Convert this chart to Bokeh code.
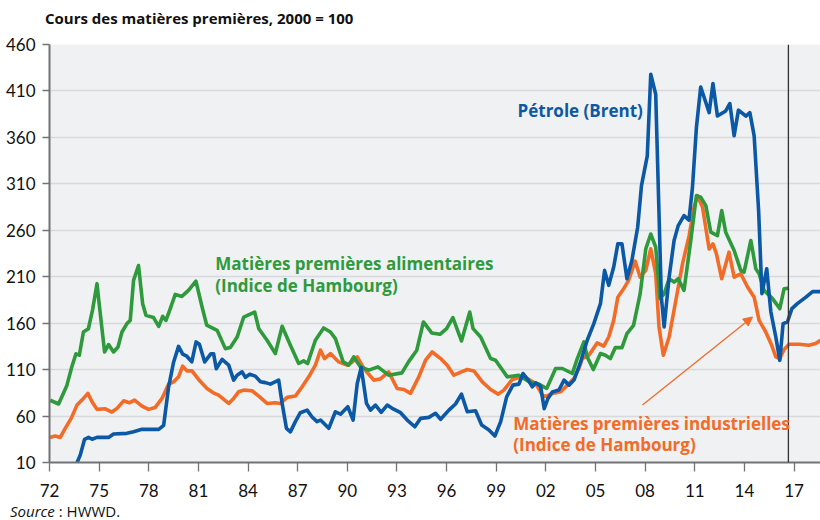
from bokeh.plotting import figure
from bokeh.models import Range1d, FixedTicker, Label, Span, Arrow, NormalHead, Div
from bokeh.layouts import column
from bokeh.embed import file_html
from bokeh.resources import INLINE

# ---------------- data ----------------
oil_years = [1973.62, 1973.86, 1974.12, 1974.36, 1974.57, 1974.87, 1975.57, 1975.87, 1976.68, 1977.08,
             1977.59, 1978.6, 1978.9, 1979.2, 1979.5, 1979.8, 1980.05, 1980.3, 1980.6, 1980.86,
             1981.06, 1981.38, 1981.75, 1981.92, 1982.08, 1982.43, 1982.83, 1983.13, 1983.34, 1983.64,
             1983.84, 1984.1, 1984.44, 1984.75, 1985.05, 1985.35, 1985.85, 1986.06, 1986.32, 1986.56,
             1986.86, 1987.16, 1987.57, 1987.87, 1988.17, 1988.38, 1988.88, 1989.28, 1989.59, 1990.03,
             1990.35, 1990.6, 1990.84, 1991.16, 1991.4, 1991.7, 1992.05, 1992.41, 1992.71, 1993.22,
             1993.62, 1994.08, 1994.43, 1994.93, 1995.33, 1995.64, 1996.14, 1996.54, 1996.9, 1997.25,
             1997.75, 1998.12, 1998.56, 1998.92, 1999.27, 1999.63, 2000.01, 2000.37, 2000.62, 2000.94,
             2001.18, 2001.38, 2001.68, 2001.9, 2002.13, 2002.39, 2002.79, 2003.1, 2003.4, 2003.7,
             2004.1, 2004.5, 2004.9, 2005.3, 2005.55, 2005.8, 2006.1, 2006.35, 2006.6, 2006.9,
             2007.2, 2007.55, 2007.78, 2008.13, 2008.34, 2008.64, 2008.84, 2008.98, 2009.15, 2009.45,
             2009.75, 2010.0, 2010.35, 2010.65, 2010.86, 2011.1, 2011.36, 2011.87, 2012.1, 2012.37,
             2012.87, 2013.12, 2013.38, 2013.64, 2014.09, 2014.33, 2014.59, 2014.86, 2015.06, 2015.35,
             2015.6, 2015.9, 2016.14, 2016.34, 2016.6, 2016.87, 2017.2, 2017.72, 2018.12, 2018.62]
oil_values = [8, 18, 35, 37, 35, 37, 37, 40.7, 41.4, 43,
              45.7, 45.7, 50, 91.5, 118, 135, 126.6, 124.4, 118.3, 139.8,
              137.3, 118.3, 127, 127, 111, 121, 114.8, 98.7, 104, 107.6,
              101.6, 105, 103, 97, 96, 94.4, 98.7, 73.6, 46.8, 43,
              54, 63.6, 66.4, 59, 54, 55.7, 46.8, 64.6, 62, 70,
              55.7, 95, 112.3, 73.6, 66.4, 71.8, 64, 71.8, 68.3, 63.6,
              55.7, 48.5, 57.5, 58.6, 63, 56.5, 66.4, 73, 83.6, 64.6,
              65.7, 50.3, 45, 38.5, 54, 80.7, 93.3, 94.4, 105.8, 98.7,
              91.5, 95.8, 92.2, 68, 79, 86, 88, 98.7, 93.3, 98.7,
              118.3, 141.6, 159.5, 181, 216.8, 200.7, 220.4, 245.4, 245.4, 207.8,
              227.5, 263.3, 308, 340, 428, 406.5, 277.6, 188, 156, 209.5,
              249, 265, 275.8, 271, 306, 370.6, 414.3, 386.7, 418, 383,
              388.5, 396.4, 361.7, 389.3, 383, 386.7, 361.7, 281, 191.7, 218.6,
              172, 145, 120, 159.5, 161.3, 175.6, 181, 188, 194, 194]

food_years = [1972.04, 1972.55, 1973.05, 1973.35, 1973.6, 1973.8, 1974.05, 1974.35, 1974.6, 1974.87,
              1975.07, 1975.33, 1975.57, 1975.87, 1976.14, 1976.38, 1976.68, 1976.88, 1977.08, 1977.38,
              1977.63, 1977.83, 1978.29, 1978.6, 1978.84, 1979.04, 1979.3, 1979.6, 1980.0, 1980.4,
              1980.85, 1981.2, 1981.5, 1982.13, 1982.63, 1982.93, 1983.34, 1983.74, 1984.1, 1984.4,
              1984.65, 1985.15, 1985.65, 1986.06, 1986.56, 1987.06, 1987.36, 1987.6, 1988.07, 1988.57,
              1988.98, 1989.28, 1989.75, 1990.09, 1990.39, 1990.8, 1991.3, 1991.85, 1992.5, 1993.3,
              1993.7, 1994.2, 1994.6, 1995.1, 1995.6, 1996.0, 1996.38, 1996.9, 1997.4, 1997.6,
              1998.06, 1998.66, 1998.96, 1999.67, 2000.37, 2000.98, 2001.58, 2002.05, 2002.59, 2003.0,
              2003.6, 2003.9, 2004.3, 2004.5, 2004.87, 2005.3, 2005.6, 2005.9, 2006.2, 2006.6,
              2006.9, 2007.3, 2007.7, 2008.04, 2008.34, 2008.64, 2008.9, 2009.15, 2009.45, 2009.75,
              2010.0, 2010.35, 2010.76, 2011.1, 2011.36, 2011.67, 2011.97, 2012.37, 2012.63, 2012.87,
              2013.38, 2013.78, 2013.98, 2014.39, 2014.69, 2014.89, 2015.19, 2015.7, 2016.14, 2016.4,
              2016.7]
food_values = [77, 73, 93, 113, 127, 125.5, 150.5, 154, 174, 202.5,
               170, 129, 137, 129, 134.4, 150.5, 159.5, 163, 206, 222,
               181, 168.4, 166, 156.6, 167.4, 163, 175.6, 191, 188.8, 195.3,
               205.3, 179, 158, 152.3, 132.6, 133.7, 145, 166.6, 169.5, 172,
               154, 141.6, 127.3, 156.6, 136.2, 116.6, 119.4, 116.6, 141.6, 154.8,
               150.5, 143.4, 118.3, 114.8, 123.7, 112.9, 109.4, 113, 104, 106.5,
               118.3, 130.9, 161.3, 149.5, 148, 154.1, 166, 140.9, 172, 154.1,
               145.1, 121.9, 120.1, 102.2, 104, 96.8, 94.4, 89.7, 111.2, 111.2,
               105.8, 121.9, 139.8, 123.7, 110.1, 127.3, 125.5, 121.9, 133.7, 133.7,
               148.8, 157.7, 191.7, 240, 256, 241.8, 186.4, 191.7, 207.8, 204.2,
               207.8, 195.3, 249, 297.3, 295.5, 286.5, 257.9, 254.3, 281.2, 257.9,
               238.2, 216.8, 214.9, 249, 218.6, 213.2, 195.3, 186.4, 175.6, 197.1,
               197.7]

ind_years = [1972.0, 1972.35, 1972.65, 1972.95, 1973.31, 1973.66, 1973.96, 1974.32, 1974.57, 1974.87,
             1975.37, 1975.77, 1976.08, 1976.48, 1976.82, 1977.14, 1977.59, 1977.99, 1978.39, 1978.8,
             1979.2, 1979.5, 1979.8, 1980.05, 1980.31, 1980.61, 1981.01, 1981.52, 1981.9, 1982.22,
             1982.83, 1983.13, 1983.43, 1983.74, 1984.24, 1984.65, 1985.15, 1985.65, 1985.96, 1986.36,
             1986.86, 1987.27, 1987.67, 1988.07, 1988.38, 1988.62, 1988.98, 1989.48, 1989.99, 1990.3,
             1990.6, 1991.0, 1991.6, 1992.0, 1992.5, 1993.01, 1993.42, 1993.82, 1994.32, 1994.73,
             1995.13, 1995.64, 1996.04, 1996.44, 1996.9, 1997.25, 1997.65, 1998.16, 1998.66, 1999.12,
             1999.46, 1999.97, 2000.37, 2000.88, 2001.38, 2001.79, 2001.99, 2002.39, 2002.9, 2003.3,
             2003.7, 2004.0, 2004.2, 2004.6, 2005.1, 2005.5, 2005.8, 2006.1, 2006.35, 2006.7,
             2007.0, 2007.4, 2007.7, 2008.04, 2008.34, 2008.64, 2008.84, 2009.1, 2009.45, 2009.8,
             2010.26, 2010.66, 2010.96, 2011.16, 2011.47, 2011.87, 2012.1, 2012.31, 2012.63, 2013.07,
             2013.38, 2013.78, 2014.19, 2014.59, 2014.89, 2015.29, 2015.65, 2015.9, 2016.14, 2016.4,
             2016.7, 2017.3, 2017.9, 2018.3, 2018.6]
ind_values = [37, 38.5, 37, 46.8, 57.5, 71.8, 77.2, 84.4, 75.4, 67.2,
              67.8, 64.3, 68.3, 76.4, 74.3, 77.2, 70.7, 67.2, 69.3, 79,
              94.4, 96.8, 102.2, 113.7, 108.6, 108.6, 99.4, 89.7, 85, 82.5,
              73.6, 79, 86.1, 87.9, 87.2, 81.5, 73.6, 74.3, 73.6, 80.1,
              81.5, 91.5, 102.2, 114.8, 130.9, 121.9, 127.3, 118.3, 114.8, 118.3,
              123.7, 111.2, 98.7, 100, 107.6, 89.7, 88.6, 84.4, 102.2, 120.1,
              129, 121.9, 114.8, 104, 107.6, 110.1, 108.6, 96.8, 88.6, 83.6,
              87.9, 99.4, 101.6, 100.5, 95.1, 82.5, 81, 84.4, 86.1, 93.3,
              100.5, 111.2, 121.9, 125.5, 138.7, 135.2, 145.1, 163, 188, 197,
              206, 226.7, 209.5, 216.8, 240, 213.2, 155.9, 125.5, 145.1, 179,
              223.9, 254.3, 284.7, 297.3, 284.7, 240, 245.4, 234.6, 207.8, 236.4,
              209.5, 213.2, 198.9, 188, 163, 150.5, 136.2, 123.7, 121.9, 131.6,
              137.3, 137.3, 136.2, 138, 141.6]

x_ticks = [1972, 1975, 1978, 1981, 1984, 1987, 1990, 1993, 1996, 1999, 2002, 2005, 2008, 2011, 2014, 2017]
x_tick_labels = ["72", "75", "78", "81", "84", "87", "90", "93", "96", "99", "02", "05", "08", "11", "14", "17"]
y_ticks = [10, 60, 110, 160, 210, 260, 310, 360, 410, 460]
forecast_start = 2016.66

# ---------------- style ----------------
BLUE = "#0b58a6"
GREEN = "#2e9a3c"
ORANGE = "#f26b27"
GREY = "#727376"
TICK_FONT = "Lato"
FONT = "Open Sans"

title = Div(text="Cours des matières premières, 2000 = 100", width=775, height=32,
            margin=(0, 0, 0, 45),
            styles={"font-family": FONT, "font-size": "15px", "font-weight": "bold",
                    "line-height": "36px", "color": "#111111", "white-space": "nowrap"})

p = figure(width=820, height=470, output_backend="svg", toolbar_location=None,
           x_range=Range1d(1972, 2018.6), y_range=Range1d(10, 460),
           min_border_left=49, min_border_right=0, min_border_top=12, min_border_bottom=40)
p.background_fill_color = "#f0f1f3"
p.border_fill_color = "white"
p.outline_line_color = None

p.line(ind_years, ind_values, line_color=ORANGE, line_width=3.6, line_join="round")
p.line(food_years, food_values, line_color=GREEN, line_width=3.6, line_join="round")
p.line(oil_years, oil_values, line_color=BLUE, line_width=3.6, line_join="round")

# axes
p.xaxis.ticker = FixedTicker(ticks=x_ticks)
p.xaxis.major_label_overrides = {t: l for t, l in zip(x_ticks, x_tick_labels)}
p.yaxis.ticker = FixedTicker(ticks=y_ticks)
for ax in (p.xaxis, p.yaxis):
    ax.axis_line_color = GREY
    ax.axis_line_width = 2
    ax.major_tick_line_color = GREY
    ax.major_tick_line_width = 1.3
    ax.minor_tick_line_color = None
    ax.major_tick_in = 0
    ax.major_label_text_font = TICK_FONT
    ax.major_label_text_font_size = "17px"
    ax.major_label_text_color = "#111111"
p.xaxis.major_tick_out = 9
p.xaxis.major_label_standoff = 12
p.xaxis.major_label_text_line_height = 1.0
p.yaxis.major_tick_out = 7
p.yaxis.major_label_standoff = 7

p.xgrid.grid_line_color = None
p.ygrid.ticker = FixedTicker(ticks=y_ticks)
p.ygrid.grid_line_color = "#d8d9dc"
p.ygrid.grid_line_width = 1.3

# forecast marker
p.add_layout(Span(location=forecast_start, dimension="height", line_color="#333333", line_width=1.3))

# labels
def lab(x, y, text, color, size="17px", style="bold", align="left", font=FONT):
    p.add_layout(Label(x=x, y=y, text=text, text_color=color, text_font=font,
                       text_font_size=size, text_font_style=style,
                       text_align=align, text_baseline="middle"))

lab(2007.86, 388.7, "Pétrole (Brent)", BLUE, align="right")
lab(1982.02, 224.3, "Matières premières alimentaires", GREEN)
lab(1982.02, 200.7, "(Indice de Hambourg)", GREEN)
lab(2000.03, 52.2, "Matières premières industrielles", ORANGE)
lab(2000.03, 28.9, "(Indice de Hambourg)", ORANGE)

p.add_layout(Arrow(end=NormalHead(size=9, fill_color=ORANGE, line_color=ORANGE),
                   x_start=2007.84, y_start=71.8, x_end=2014.49, y_end=166.7,
                   line_color=ORANGE, line_width=1.3))

source = Div(text="<i>Source</i> : HWWD.", width=810, height=18, margin=(0, 0, 0, 10),
             styles={"font-family": FONT, "font-size": "15px", "line-height": "18px",
                     "color": "#111111", "white-space": "nowrap"})

layout = column(title, p, source, spacing=0)
open("out.html", "w").write(file_html(layout, INLINE))
